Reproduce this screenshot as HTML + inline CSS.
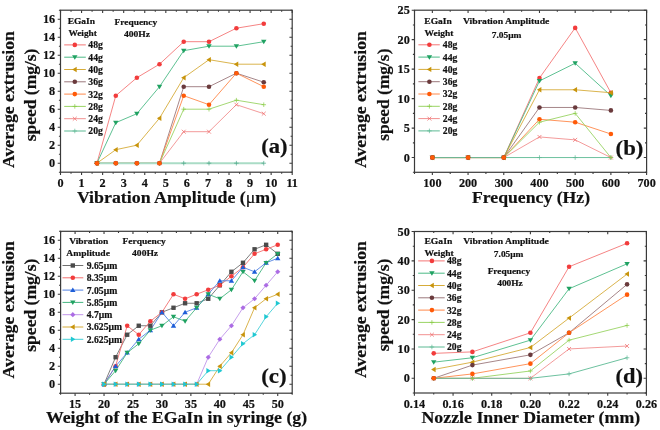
<!DOCTYPE html>
<html><head><meta charset="utf-8"><title>Extrusion speed charts</title>
<style>
html,body{margin:0;padding:0;background:#fff;}
body{width:660px;height:430px;overflow:hidden;}
svg{display:block;filter:blur(0.3px);}
text{font-family:"Liberation Serif", serif;font-weight:bold;fill:#111;stroke:#111;stroke-width:0.2px;}
</style></head>
<body>
<svg width="660" height="430" viewBox="0 0 660 430">
<rect width="660" height="430" fill="#fff"/>
<rect x="60.50" y="10.20" width="231.70" height="162.00" fill="none" stroke="#3a3a3a" stroke-width="1.2"/>
<path d="M60.50,172.20v2.8M60.50,10.20v2.8M81.56,172.20v2.8M81.56,10.20v2.8M102.63,172.20v2.8M102.63,10.20v2.8M123.69,172.20v2.8M123.69,10.20v2.8M144.75,172.20v2.8M144.75,10.20v2.8M165.82,172.20v2.8M165.82,10.20v2.8M186.88,172.20v2.8M186.88,10.20v2.8M207.95,172.20v2.8M207.95,10.20v2.8M229.01,172.20v2.8M229.01,10.20v2.8M250.07,172.20v2.8M250.07,10.20v2.8M271.14,172.20v2.8M271.14,10.20v2.8M292.20,172.20v2.8M292.20,10.20v2.8M71.03,172.20v1.6M71.03,10.20v1.6M92.10,172.20v1.6M92.10,10.20v1.6M113.16,172.20v1.6M113.16,10.20v1.6M134.22,172.20v1.6M134.22,10.20v1.6M155.29,172.20v1.6M155.29,10.20v1.6M176.35,172.20v1.6M176.35,10.20v1.6M197.41,172.20v1.6M197.41,10.20v1.6M218.48,172.20v1.6M218.48,10.20v1.6M239.54,172.20v1.6M239.54,10.20v1.6M260.60,172.20v1.6M260.60,10.20v1.6M281.67,172.20v1.6M281.67,10.20v1.6M60.50,163.20h-2.8M292.20,163.20h-2.8M60.50,145.20h-2.8M292.20,145.20h-2.8M60.50,127.20h-2.8M292.20,127.20h-2.8M60.50,109.20h-2.8M292.20,109.20h-2.8M60.50,91.20h-2.8M292.20,91.20h-2.8M60.50,73.20h-2.8M292.20,73.20h-2.8M60.50,55.20h-2.8M292.20,55.20h-2.8M60.50,37.20h-2.8M292.20,37.20h-2.8M60.50,19.20h-2.8M292.20,19.20h-2.8M60.50,172.20h-1.6M292.20,172.20h-1.6M60.50,154.20h-1.6M292.20,154.20h-1.6M60.50,136.20h-1.6M292.20,136.20h-1.6M60.50,118.20h-1.6M292.20,118.20h-1.6M60.50,100.20h-1.6M292.20,100.20h-1.6M60.50,82.20h-1.6M292.20,82.20h-1.6M60.50,64.20h-1.6M292.20,64.20h-1.6M60.50,46.20h-1.6M292.20,46.20h-1.6M60.50,28.20h-1.6M292.20,28.20h-1.6M60.50,10.20h-1.6M292.20,10.20h-1.6" stroke="#3a3a3a" stroke-width="1.1" fill="none"/>
<text x="60.50" y="187.30" text-anchor="middle" font-size="12.2">0</text>
<text x="81.56" y="187.30" text-anchor="middle" font-size="12.2">1</text>
<text x="102.63" y="187.30" text-anchor="middle" font-size="12.2">2</text>
<text x="123.69" y="187.30" text-anchor="middle" font-size="12.2">3</text>
<text x="144.75" y="187.30" text-anchor="middle" font-size="12.2">4</text>
<text x="165.82" y="187.30" text-anchor="middle" font-size="12.2">5</text>
<text x="186.88" y="187.30" text-anchor="middle" font-size="12.2">6</text>
<text x="207.95" y="187.30" text-anchor="middle" font-size="12.2">7</text>
<text x="229.01" y="187.30" text-anchor="middle" font-size="12.2">8</text>
<text x="250.07" y="187.30" text-anchor="middle" font-size="12.2">9</text>
<text x="271.14" y="187.30" text-anchor="middle" font-size="12.2">10</text>
<text x="292.20" y="187.30" text-anchor="middle" font-size="12.2">11</text>
<text x="55.20" y="167.20" text-anchor="end" font-size="12.2">0</text>
<text x="55.20" y="149.20" text-anchor="end" font-size="12.2">2</text>
<text x="55.20" y="131.20" text-anchor="end" font-size="12.2">4</text>
<text x="55.20" y="113.20" text-anchor="end" font-size="12.2">6</text>
<text x="55.20" y="95.20" text-anchor="end" font-size="12.2">8</text>
<text x="55.20" y="77.20" text-anchor="end" font-size="12.2">10</text>
<text x="55.20" y="59.20" text-anchor="end" font-size="12.2">12</text>
<text x="55.20" y="41.20" text-anchor="end" font-size="12.2">14</text>
<text x="55.20" y="23.20" text-anchor="end" font-size="12.2">16</text>
<path d="M96.94,163.20 L115.79,95.70 L136.86,77.70 L159.50,64.20 L183.72,41.70 L209.00,41.70 L236.38,28.20 L263.76,23.70" stroke="#f47676" stroke-width="0.9" fill="none"/>
<path d="M96.94,163.20 L115.79,122.70 L136.86,113.70 L159.50,86.70 L183.72,50.70 L209.00,46.20 L236.38,46.20 L263.76,41.70" stroke="#4cba86" stroke-width="0.9" fill="none"/>
<path d="M96.94,163.20 L115.79,149.70 L136.86,145.20 L159.50,118.20 L183.72,77.70 L209.00,59.70 L236.38,64.20 L263.76,64.20" stroke="#d6ac3a" stroke-width="0.9" fill="none"/>
<path d="M96.94,163.20 L115.79,163.20 L136.86,163.20 L159.50,163.20 L183.72,86.70 L209.00,86.70 L236.38,73.20 L263.76,82.20" stroke="#9c787c" stroke-width="0.9" fill="none"/>
<path d="M96.94,163.20 L115.79,163.20 L136.86,163.20 L159.50,163.20 L183.72,95.70 L209.00,104.70 L236.38,73.20 L263.76,86.70" stroke="#ff884a" stroke-width="0.9" fill="none"/>
<path d="M96.94,163.20 L115.79,163.20 L136.86,163.20 L159.50,163.20 L183.72,109.20 L209.00,109.20 L236.38,100.20 L263.76,104.70" stroke="#9ad464" stroke-width="0.9" fill="none"/>
<path d="M96.94,163.20 L115.79,163.20 L136.86,163.20 L159.50,163.20 L183.72,131.70 L209.00,131.70 L236.38,104.70 L263.76,113.70" stroke="#f29090" stroke-width="0.9" fill="none"/>
<path d="M96.94,163.20 L115.79,163.20 L136.86,163.20 L159.50,163.20 L183.72,163.20 L209.00,163.20 L236.38,163.20 L263.76,163.20" stroke="#aadcc6" stroke-width="1.9" fill="none"/>
<path d="M261.46,163.20 H266.06 M263.76,160.90 V165.50" stroke="#4aa888" stroke-width="0.7" fill="none"/>
<path d="M234.08,163.20 H238.68 M236.38,160.90 V165.50" stroke="#4aa888" stroke-width="0.7" fill="none"/>
<path d="M206.70,163.20 H211.30 M209.00,160.90 V165.50" stroke="#4aa888" stroke-width="0.7" fill="none"/>
<path d="M181.42,163.20 H186.02 M183.72,160.90 V165.50" stroke="#4aa888" stroke-width="0.7" fill="none"/>
<path d="M157.20,163.20 H161.80 M159.50,160.90 V165.50" stroke="#4aa888" stroke-width="0.7" fill="none"/>
<path d="M134.56,163.20 H139.16 M136.86,160.90 V165.50" stroke="#4aa888" stroke-width="0.7" fill="none"/>
<path d="M113.49,163.20 H118.09 M115.79,160.90 V165.50" stroke="#4aa888" stroke-width="0.7" fill="none"/>
<path d="M94.64,163.20 H99.24 M96.94,160.90 V165.50" stroke="#4aa888" stroke-width="0.7" fill="none"/>
<path d="M261.81,111.74 L265.72,115.65 M261.81,115.65 L265.72,111.74" stroke="#f07272" stroke-width="0.8" fill="none"/>
<path d="M234.43,102.74 L238.34,106.65 M234.43,106.65 L238.34,102.74" stroke="#f07272" stroke-width="0.8" fill="none"/>
<path d="M207.04,129.74 L210.95,133.66 M207.04,133.66 L210.95,129.74" stroke="#f07272" stroke-width="0.8" fill="none"/>
<path d="M181.77,129.74 L185.68,133.66 M181.77,133.66 L185.68,129.74" stroke="#f07272" stroke-width="0.8" fill="none"/>
<path d="M157.54,161.24 L161.45,165.16 M157.54,165.16 L161.45,161.24" stroke="#f07272" stroke-width="0.8" fill="none"/>
<path d="M134.90,161.24 L138.81,165.16 M134.90,165.16 L138.81,161.24" stroke="#f07272" stroke-width="0.8" fill="none"/>
<path d="M113.84,161.24 L117.75,165.16 M113.84,165.16 L117.75,161.24" stroke="#f07272" stroke-width="0.8" fill="none"/>
<path d="M94.99,161.24 L98.90,165.16 M94.99,165.16 L98.90,161.24" stroke="#f07272" stroke-width="0.8" fill="none"/>
<path d="M261.46,104.70 H266.06 M263.76,102.40 V107.00" stroke="#88cc44" stroke-width="0.7" fill="none"/>
<path d="M234.08,100.20 H238.68 M236.38,97.90 V102.50" stroke="#88cc44" stroke-width="0.7" fill="none"/>
<path d="M206.70,109.20 H211.30 M209.00,106.90 V111.50" stroke="#88cc44" stroke-width="0.7" fill="none"/>
<path d="M181.42,109.20 H186.02 M183.72,106.90 V111.50" stroke="#88cc44" stroke-width="0.7" fill="none"/>
<path d="M157.20,163.20 H161.80 M159.50,160.90 V165.50" stroke="#88cc44" stroke-width="0.7" fill="none"/>
<path d="M134.56,163.20 H139.16 M136.86,160.90 V165.50" stroke="#88cc44" stroke-width="0.7" fill="none"/>
<path d="M113.49,163.20 H118.09 M115.79,160.90 V165.50" stroke="#88cc44" stroke-width="0.7" fill="none"/>
<path d="M94.64,163.20 H99.24 M96.94,160.90 V165.50" stroke="#88cc44" stroke-width="0.7" fill="none"/>
<circle cx="96.94" cy="163.20" r="2.30" fill="#f23c3c"/>
<circle cx="115.79" cy="95.70" r="2.30" fill="#f23c3c"/>
<circle cx="136.86" cy="77.70" r="2.30" fill="#f23c3c"/>
<circle cx="159.50" cy="64.20" r="2.30" fill="#f23c3c"/>
<circle cx="183.72" cy="41.70" r="2.30" fill="#f23c3c"/>
<circle cx="209.00" cy="41.70" r="2.30" fill="#f23c3c"/>
<circle cx="236.38" cy="28.20" r="2.30" fill="#f23c3c"/>
<circle cx="263.76" cy="23.70" r="2.30" fill="#f23c3c"/>
<path d="M94.23,161.30 L99.65,161.30 L96.94,165.78 Z" fill="#20a262"/>
<path d="M113.08,120.80 L118.51,120.80 L115.79,125.28 Z" fill="#20a262"/>
<path d="M134.14,111.80 L139.57,111.80 L136.86,116.28 Z" fill="#20a262"/>
<path d="M156.79,84.80 L162.21,84.80 L159.50,89.28 Z" fill="#20a262"/>
<path d="M181.01,48.80 L186.44,48.80 L183.72,53.28 Z" fill="#20a262"/>
<path d="M206.28,44.30 L211.71,44.30 L209.00,48.78 Z" fill="#20a262"/>
<path d="M233.67,44.30 L239.10,44.30 L236.38,48.78 Z" fill="#20a262"/>
<path d="M261.05,39.80 L266.48,39.80 L263.76,44.28 Z" fill="#20a262"/>
<path d="M98.84,160.49 L98.84,165.91 L94.36,163.20 Z" fill="#c8940c"/>
<path d="M117.69,146.99 L117.69,152.41 L113.21,149.70 Z" fill="#c8940c"/>
<path d="M138.76,142.49 L138.76,147.91 L134.28,145.20 Z" fill="#c8940c"/>
<path d="M161.40,115.49 L161.40,120.91 L156.92,118.20 Z" fill="#c8940c"/>
<path d="M185.62,74.99 L185.62,80.41 L181.14,77.70 Z" fill="#c8940c"/>
<path d="M210.90,56.99 L210.90,62.41 L206.42,59.70 Z" fill="#c8940c"/>
<path d="M238.28,61.49 L238.28,66.91 L233.80,64.20 Z" fill="#c8940c"/>
<path d="M265.66,61.49 L265.66,66.91 L261.19,64.20 Z" fill="#c8940c"/>
<circle cx="96.94" cy="163.20" r="2.30" fill="#6a3a3c"/>
<circle cx="115.79" cy="163.20" r="2.30" fill="#6a3a3c"/>
<circle cx="136.86" cy="163.20" r="2.30" fill="#6a3a3c"/>
<circle cx="159.50" cy="163.20" r="2.30" fill="#6a3a3c"/>
<circle cx="183.72" cy="86.70" r="2.30" fill="#6a3a3c"/>
<circle cx="209.00" cy="86.70" r="2.30" fill="#6a3a3c"/>
<circle cx="236.38" cy="73.20" r="2.30" fill="#6a3a3c"/>
<circle cx="263.76" cy="82.20" r="2.30" fill="#6a3a3c"/>
<circle cx="96.94" cy="163.20" r="2.30" fill="#ff5a08"/>
<circle cx="115.79" cy="163.20" r="2.30" fill="#ff5a08"/>
<circle cx="136.86" cy="163.20" r="2.30" fill="#ff5a08"/>
<circle cx="159.50" cy="163.20" r="2.30" fill="#ff5a08"/>
<circle cx="183.72" cy="95.70" r="2.30" fill="#ff5a08"/>
<circle cx="209.00" cy="104.70" r="2.30" fill="#ff5a08"/>
<circle cx="236.38" cy="73.20" r="2.30" fill="#ff5a08"/>
<circle cx="263.76" cy="86.70" r="2.30" fill="#ff5a08"/>
<path d="M64.20,44.90H85.80" stroke="#f47676" stroke-width="1"/>
<circle cx="74.80" cy="44.90" r="2.30" fill="#f23c3c"/>
<text x="88.30" y="48.30" font-size="9.7">48g</text>
<path d="M64.20,57.20H85.80" stroke="#4cba86" stroke-width="1"/>
<path d="M72.09,55.30 L77.51,55.30 L74.80,59.78 Z" fill="#20a262"/>
<text x="88.30" y="60.60" font-size="9.7">44g</text>
<path d="M64.20,69.50H85.80" stroke="#d6ac3a" stroke-width="1"/>
<path d="M76.70,66.79 L76.70,72.21 L72.22,69.50 Z" fill="#c8940c"/>
<text x="88.30" y="72.90" font-size="9.7">40g</text>
<path d="M64.20,81.80H85.80" stroke="#9c787c" stroke-width="1"/>
<circle cx="74.80" cy="81.80" r="2.30" fill="#6a3a3c"/>
<text x="88.30" y="85.20" font-size="9.7">36g</text>
<path d="M64.20,94.10H85.80" stroke="#ff884a" stroke-width="1"/>
<circle cx="74.80" cy="94.10" r="2.30" fill="#ff5a08"/>
<text x="88.30" y="97.50" font-size="9.7">32g</text>
<path d="M64.20,106.40H85.80" stroke="#9ad464" stroke-width="1"/>
<path d="M72.50,106.40 H77.10 M74.80,104.10 V108.70" stroke="#88cc44" stroke-width="0.7" fill="none"/>
<text x="88.30" y="109.80" font-size="9.7">28g</text>
<path d="M64.20,118.70H85.80" stroke="#f29090" stroke-width="1"/>
<path d="M72.84,116.75 L76.75,120.66 M72.84,120.66 L76.75,116.75" stroke="#f07272" stroke-width="0.8" fill="none"/>
<text x="88.30" y="122.10" font-size="9.7">24g</text>
<path d="M64.20,131.00H85.80" stroke="#5cba94" stroke-width="1"/>
<path d="M72.50,131.00 H77.10 M74.80,128.70 V133.30" stroke="#5cb894" stroke-width="0.7" fill="none"/>
<text x="88.30" y="134.40" font-size="9.7">20g</text>
<text x="67.65" y="23.70" font-size="9.0" textLength="27.44" lengthAdjust="spacingAndGlyphs">EGaIn</text>
<text x="68.40" y="35.50" font-size="9.0" textLength="28.50" lengthAdjust="spacingAndGlyphs">Weight</text>
<text x="114.45" y="24.50" font-size="9.0" textLength="42.85" lengthAdjust="spacingAndGlyphs">Frequency</text>
<text x="123.90" y="36.60" font-size="9.0" textLength="26.11" lengthAdjust="spacingAndGlyphs">400Hz</text>
<text x="261.19" y="153.40" font-size="21.5" textLength="26.32" lengthAdjust="spacingAndGlyphs">(a)</text>
<text transform="translate(14.10,168.00) rotate(-90)" font-size="17.6" textLength="136.86" lengthAdjust="spacingAndGlyphs">Average extrusion</text>
<text transform="translate(36.10,141.27) rotate(-90)" font-size="17.6" textLength="92.70" lengthAdjust="spacingAndGlyphs">speed (mg/s)</text>
<text x="76.90" y="203.20" font-size="17.6" textLength="199.24" lengthAdjust="spacingAndGlyphs">Vibration Amplitude (<tspan font-weight="normal">μ</tspan>m)</text>
<rect x="414.50" y="10.20" width="232.10" height="162.10" fill="none" stroke="#3a3a3a" stroke-width="1.2"/>
<path d="M432.35,172.30v2.8M432.35,10.20v2.8M468.06,172.30v2.8M468.06,10.20v2.8M503.77,172.30v2.8M503.77,10.20v2.8M539.48,172.30v2.8M539.48,10.20v2.8M575.18,172.30v2.8M575.18,10.20v2.8M610.89,172.30v2.8M610.89,10.20v2.8M646.60,172.30v2.8M646.60,10.20v2.8M414.50,172.30v1.6M414.50,10.20v1.6M450.21,172.30v1.6M450.21,10.20v1.6M485.92,172.30v1.6M485.92,10.20v1.6M521.62,172.30v1.6M521.62,10.20v1.6M557.33,172.30v1.6M557.33,10.20v1.6M593.04,172.30v1.6M593.04,10.20v1.6M628.75,172.30v1.6M628.75,10.20v1.6M414.50,157.56h-2.8M646.60,157.56h-2.8M414.50,128.09h-2.8M646.60,128.09h-2.8M414.50,98.62h-2.8M646.60,98.62h-2.8M414.50,69.15h-2.8M646.60,69.15h-2.8M414.50,39.67h-2.8M646.60,39.67h-2.8M414.50,10.20h-2.8M646.60,10.20h-2.8M414.50,172.30h-1.6M646.60,172.30h-1.6M414.50,142.83h-1.6M646.60,142.83h-1.6M414.50,113.35h-1.6M646.60,113.35h-1.6M414.50,83.88h-1.6M646.60,83.88h-1.6M414.50,54.41h-1.6M646.60,54.41h-1.6M414.50,24.94h-1.6M646.60,24.94h-1.6" stroke="#3a3a3a" stroke-width="1.1" fill="none"/>
<text x="432.35" y="186.70" text-anchor="middle" font-size="12.2">100</text>
<text x="468.06" y="186.70" text-anchor="middle" font-size="12.2">200</text>
<text x="503.77" y="186.70" text-anchor="middle" font-size="12.2">300</text>
<text x="539.48" y="186.70" text-anchor="middle" font-size="12.2">400</text>
<text x="575.18" y="186.70" text-anchor="middle" font-size="12.2">500</text>
<text x="610.89" y="186.70" text-anchor="middle" font-size="12.2">600</text>
<text x="646.60" y="186.70" text-anchor="middle" font-size="12.2">700</text>
<text x="409.80" y="161.56" text-anchor="end" font-size="12.2">0</text>
<text x="409.80" y="132.09" text-anchor="end" font-size="12.2">5</text>
<text x="409.80" y="102.62" text-anchor="end" font-size="12.2">10</text>
<text x="409.80" y="73.15" text-anchor="end" font-size="12.2">15</text>
<text x="409.80" y="43.67" text-anchor="end" font-size="12.2">20</text>
<text x="409.80" y="14.20" text-anchor="end" font-size="12.2">25</text>
<path d="M432.35,157.56 L468.06,157.56 L503.77,157.56 L539.48,77.99 L575.18,27.88 L610.89,92.72" stroke="#f47676" stroke-width="0.9" fill="none"/>
<path d="M432.35,157.56 L468.06,157.56 L503.77,157.56 L539.48,80.93 L575.18,63.25 L610.89,95.67" stroke="#4cba86" stroke-width="0.9" fill="none"/>
<path d="M432.35,157.56 L468.06,157.56 L503.77,157.56 L539.48,89.78 L575.18,89.78 L610.89,92.72" stroke="#d6ac3a" stroke-width="0.9" fill="none"/>
<path d="M432.35,157.56 L468.06,157.56 L503.77,157.56 L539.48,107.46 L575.18,107.46 L610.89,110.41" stroke="#9c787c" stroke-width="0.9" fill="none"/>
<path d="M432.35,157.56 L468.06,157.56 L503.77,157.56 L539.48,119.25 L575.18,122.20 L610.89,133.99" stroke="#ff884a" stroke-width="0.9" fill="none"/>
<path d="M432.35,157.56 L468.06,157.56 L503.77,157.56 L539.48,122.20 L575.18,113.35 L610.89,157.56" stroke="#9ad464" stroke-width="0.9" fill="none"/>
<path d="M432.35,157.56 L468.06,157.56 L503.77,157.56 L539.48,136.93 L575.18,139.88 L610.89,157.56" stroke="#f29090" stroke-width="0.9" fill="none"/>
<path d="M432.35,157.56 L468.06,157.56 L503.77,157.56 L539.48,157.56 L575.18,157.56 L610.89,157.56" stroke="#5cba94" stroke-width="0.9" fill="none"/>
<path d="M608.59,157.56 H613.19 M610.89,155.26 V159.86" stroke="#5cb894" stroke-width="0.7" fill="none"/>
<path d="M572.88,157.56 H577.48 M575.18,155.26 V159.86" stroke="#5cb894" stroke-width="0.7" fill="none"/>
<path d="M537.18,157.56 H541.78 M539.48,155.26 V159.86" stroke="#5cb894" stroke-width="0.7" fill="none"/>
<path d="M501.47,157.56 H506.07 M503.77,155.26 V159.86" stroke="#5cb894" stroke-width="0.7" fill="none"/>
<path d="M465.76,157.56 H470.36 M468.06,155.26 V159.86" stroke="#5cb894" stroke-width="0.7" fill="none"/>
<path d="M430.05,157.56 H434.65 M432.35,155.26 V159.86" stroke="#5cb894" stroke-width="0.7" fill="none"/>
<path d="M608.94,155.61 L612.85,159.52 M608.94,159.52 L612.85,155.61" stroke="#f07272" stroke-width="0.8" fill="none"/>
<path d="M573.23,137.92 L577.14,141.84 M573.23,141.84 L577.14,137.92" stroke="#f07272" stroke-width="0.8" fill="none"/>
<path d="M537.52,134.98 L541.43,138.89 M537.52,138.89 L541.43,134.98" stroke="#f07272" stroke-width="0.8" fill="none"/>
<path d="M501.81,155.61 L505.72,159.52 M501.81,159.52 L505.72,155.61" stroke="#f07272" stroke-width="0.8" fill="none"/>
<path d="M466.11,155.61 L470.02,159.52 M466.11,159.52 L470.02,155.61" stroke="#f07272" stroke-width="0.8" fill="none"/>
<path d="M430.40,155.61 L434.31,159.52 M430.40,159.52 L434.31,155.61" stroke="#f07272" stroke-width="0.8" fill="none"/>
<path d="M608.59,157.56 H613.19 M610.89,155.26 V159.86" stroke="#88cc44" stroke-width="0.7" fill="none"/>
<path d="M572.88,113.35 H577.48 M575.18,111.05 V115.65" stroke="#88cc44" stroke-width="0.7" fill="none"/>
<path d="M537.18,122.20 H541.78 M539.48,119.90 V124.50" stroke="#88cc44" stroke-width="0.7" fill="none"/>
<path d="M501.47,157.56 H506.07 M503.77,155.26 V159.86" stroke="#88cc44" stroke-width="0.7" fill="none"/>
<path d="M465.76,157.56 H470.36 M468.06,155.26 V159.86" stroke="#88cc44" stroke-width="0.7" fill="none"/>
<path d="M430.05,157.56 H434.65 M432.35,155.26 V159.86" stroke="#88cc44" stroke-width="0.7" fill="none"/>
<circle cx="432.35" cy="157.56" r="2.30" fill="#f23c3c"/>
<circle cx="468.06" cy="157.56" r="2.30" fill="#f23c3c"/>
<circle cx="503.77" cy="157.56" r="2.30" fill="#f23c3c"/>
<circle cx="539.48" cy="77.99" r="2.30" fill="#f23c3c"/>
<circle cx="575.18" cy="27.88" r="2.30" fill="#f23c3c"/>
<circle cx="610.89" cy="92.72" r="2.30" fill="#f23c3c"/>
<path d="M429.64,155.66 L435.07,155.66 L432.35,160.14 Z" fill="#20a262"/>
<path d="M465.35,155.66 L470.78,155.66 L468.06,160.14 Z" fill="#20a262"/>
<path d="M501.06,155.66 L506.48,155.66 L503.77,160.14 Z" fill="#20a262"/>
<path d="M536.76,79.03 L542.19,79.03 L539.48,83.51 Z" fill="#20a262"/>
<path d="M572.47,61.35 L577.90,61.35 L575.18,65.83 Z" fill="#20a262"/>
<path d="M608.18,93.77 L613.61,93.77 L610.89,98.25 Z" fill="#20a262"/>
<path d="M434.25,154.85 L434.25,160.28 L429.78,157.56 Z" fill="#c8940c"/>
<path d="M469.96,154.85 L469.96,160.28 L465.48,157.56 Z" fill="#c8940c"/>
<path d="M505.67,154.85 L505.67,160.28 L501.19,157.56 Z" fill="#c8940c"/>
<path d="M541.38,87.06 L541.38,92.49 L536.90,89.78 Z" fill="#c8940c"/>
<path d="M577.08,87.06 L577.08,92.49 L572.61,89.78 Z" fill="#c8940c"/>
<path d="M612.79,90.01 L612.79,95.44 L608.31,92.72 Z" fill="#c8940c"/>
<circle cx="432.35" cy="157.56" r="2.30" fill="#6a3a3c"/>
<circle cx="468.06" cy="157.56" r="2.30" fill="#6a3a3c"/>
<circle cx="503.77" cy="157.56" r="2.30" fill="#6a3a3c"/>
<circle cx="539.48" cy="107.46" r="2.30" fill="#6a3a3c"/>
<circle cx="575.18" cy="107.46" r="2.30" fill="#6a3a3c"/>
<circle cx="610.89" cy="110.41" r="2.30" fill="#6a3a3c"/>
<circle cx="432.35" cy="157.56" r="2.30" fill="#ff5a08"/>
<circle cx="468.06" cy="157.56" r="2.30" fill="#ff5a08"/>
<circle cx="503.77" cy="157.56" r="2.30" fill="#ff5a08"/>
<circle cx="539.48" cy="119.25" r="2.30" fill="#ff5a08"/>
<circle cx="575.18" cy="122.20" r="2.30" fill="#ff5a08"/>
<circle cx="610.89" cy="133.99" r="2.30" fill="#ff5a08"/>
<path d="M418.40,44.80H439.80" stroke="#f47676" stroke-width="1"/>
<circle cx="429.40" cy="44.80" r="2.30" fill="#f23c3c"/>
<text x="442.80" y="48.20" font-size="9.7">48g</text>
<path d="M418.40,57.10H439.80" stroke="#4cba86" stroke-width="1"/>
<path d="M426.69,55.20 L432.11,55.20 L429.40,59.68 Z" fill="#20a262"/>
<text x="442.80" y="60.50" font-size="9.7">44g</text>
<path d="M418.40,69.40H439.80" stroke="#d6ac3a" stroke-width="1"/>
<path d="M431.30,66.69 L431.30,72.11 L426.82,69.40 Z" fill="#c8940c"/>
<text x="442.80" y="72.80" font-size="9.7">40g</text>
<path d="M418.40,81.70H439.80" stroke="#9c787c" stroke-width="1"/>
<circle cx="429.40" cy="81.70" r="2.30" fill="#6a3a3c"/>
<text x="442.80" y="85.10" font-size="9.7">36g</text>
<path d="M418.40,94.00H439.80" stroke="#ff884a" stroke-width="1"/>
<circle cx="429.40" cy="94.00" r="2.30" fill="#ff5a08"/>
<text x="442.80" y="97.40" font-size="9.7">32g</text>
<path d="M418.40,106.30H439.80" stroke="#9ad464" stroke-width="1"/>
<path d="M427.10,106.30 H431.70 M429.40,104.00 V108.60" stroke="#88cc44" stroke-width="0.7" fill="none"/>
<text x="442.80" y="109.70" font-size="9.7">28g</text>
<path d="M418.40,118.60H439.80" stroke="#f29090" stroke-width="1"/>
<path d="M427.44,116.65 L431.35,120.56 M427.44,120.56 L431.35,116.65" stroke="#f07272" stroke-width="0.8" fill="none"/>
<text x="442.80" y="122.00" font-size="9.7">24g</text>
<path d="M418.40,130.90H439.80" stroke="#5cba94" stroke-width="1"/>
<path d="M427.10,130.90 H431.70 M429.40,128.60 V133.20" stroke="#5cb894" stroke-width="0.7" fill="none"/>
<text x="442.80" y="134.30" font-size="9.7">20g</text>
<text x="424.35" y="23.60" font-size="9.0" textLength="27.54" lengthAdjust="spacingAndGlyphs">EGaIn</text>
<text x="424.50" y="36.00" font-size="9.0" textLength="29.00" lengthAdjust="spacingAndGlyphs">Weight</text>
<text x="462.90" y="24.10" font-size="9.0" textLength="86.51" lengthAdjust="spacingAndGlyphs">Vibration Amplitude</text>
<text x="491.66" y="37.60" font-size="9.0" textLength="29.79" lengthAdjust="spacingAndGlyphs">7.05μm</text>
<text x="615.59" y="154.60" font-size="21.5" textLength="27.83" lengthAdjust="spacingAndGlyphs">(b)</text>
<text transform="translate(366.10,168.00) rotate(-90)" font-size="17.6" textLength="136.86" lengthAdjust="spacingAndGlyphs">Average extrusion</text>
<text transform="translate(388.50,140.77) rotate(-90)" font-size="17.6" textLength="92.20" lengthAdjust="spacingAndGlyphs">speed (mg/s)</text>
<text x="472.02" y="202.60" font-size="17.6" textLength="118.02" lengthAdjust="spacingAndGlyphs">Frequency (Hz)</text>
<rect x="60.60" y="231.30" width="231.60" height="161.90" fill="none" stroke="#3a3a3a" stroke-width="1.2"/>
<path d="M75.08,393.20v2.8M75.08,231.30v2.8M104.03,393.20v2.8M104.03,231.30v2.8M132.97,393.20v2.8M132.97,231.30v2.8M161.93,393.20v2.8M161.93,231.30v2.8M190.88,393.20v2.8M190.88,231.30v2.8M219.82,393.20v2.8M219.82,231.30v2.8M248.77,393.20v2.8M248.77,231.30v2.8M277.73,393.20v2.8M277.73,231.30v2.8M60.60,393.20v1.6M60.60,231.30v1.6M89.55,393.20v1.6M89.55,231.30v1.6M118.50,393.20v1.6M118.50,231.30v1.6M147.45,393.20v1.6M147.45,231.30v1.6M176.40,393.20v1.6M176.40,231.30v1.6M205.35,393.20v1.6M205.35,231.30v1.6M234.30,393.20v1.6M234.30,231.30v1.6M263.25,393.20v1.6M263.25,231.30v1.6M292.20,393.20v1.6M292.20,231.30v1.6M60.60,384.21h-2.8M292.20,384.21h-2.8M60.60,366.22h-2.8M292.20,366.22h-2.8M60.60,348.23h-2.8M292.20,348.23h-2.8M60.60,330.24h-2.8M292.20,330.24h-2.8M60.60,312.25h-2.8M292.20,312.25h-2.8M60.60,294.26h-2.8M292.20,294.26h-2.8M60.60,276.27h-2.8M292.20,276.27h-2.8M60.60,258.28h-2.8M292.20,258.28h-2.8M60.60,240.29h-2.8M292.20,240.29h-2.8M60.60,393.20h-1.6M292.20,393.20h-1.6M60.60,375.21h-1.6M292.20,375.21h-1.6M60.60,357.22h-1.6M292.20,357.22h-1.6M60.60,339.23h-1.6M292.20,339.23h-1.6M60.60,321.24h-1.6M292.20,321.24h-1.6M60.60,303.26h-1.6M292.20,303.26h-1.6M60.60,285.27h-1.6M292.20,285.27h-1.6M60.60,267.28h-1.6M292.20,267.28h-1.6M60.60,249.29h-1.6M292.20,249.29h-1.6M60.60,231.30h-1.6M292.20,231.30h-1.6" stroke="#3a3a3a" stroke-width="1.1" fill="none"/>
<text x="75.08" y="408.30" text-anchor="middle" font-size="12.2">15</text>
<text x="104.03" y="408.30" text-anchor="middle" font-size="12.2">20</text>
<text x="132.97" y="408.30" text-anchor="middle" font-size="12.2">25</text>
<text x="161.93" y="408.30" text-anchor="middle" font-size="12.2">30</text>
<text x="190.88" y="408.30" text-anchor="middle" font-size="12.2">35</text>
<text x="219.82" y="408.30" text-anchor="middle" font-size="12.2">40</text>
<text x="248.77" y="408.30" text-anchor="middle" font-size="12.2">45</text>
<text x="277.73" y="408.30" text-anchor="middle" font-size="12.2">50</text>
<text x="55.20" y="388.21" text-anchor="end" font-size="12.2">0</text>
<text x="55.20" y="370.22" text-anchor="end" font-size="12.2">2</text>
<text x="55.20" y="352.23" text-anchor="end" font-size="12.2">4</text>
<text x="55.20" y="334.24" text-anchor="end" font-size="12.2">6</text>
<text x="55.20" y="316.25" text-anchor="end" font-size="12.2">8</text>
<text x="55.20" y="298.26" text-anchor="end" font-size="12.2">10</text>
<text x="55.20" y="280.27" text-anchor="end" font-size="12.2">12</text>
<text x="55.20" y="262.28" text-anchor="end" font-size="12.2">14</text>
<text x="55.20" y="244.29" text-anchor="end" font-size="12.2">16</text>
<path d="M104.03,384.21 L115.60,357.22 L127.19,334.74 L138.77,325.74 L150.34,325.74 L161.93,312.25 L173.50,307.75 L185.08,303.26 L196.66,303.26 L208.24,298.76 L219.82,285.27 L231.41,271.77 L242.98,262.78 L254.56,249.29 L266.14,244.79 L277.73,253.79" stroke="#707070" stroke-width="0.9" fill="none"/>
<path d="M104.03,384.21 L115.60,366.22 L127.19,325.74 L138.77,334.74 L150.34,321.24 L161.93,312.25 L173.50,294.26 L185.08,298.76 L196.66,294.26 L208.24,289.76 L219.82,285.27 L231.41,276.27 L242.98,267.28 L254.56,253.79 L266.14,249.29 L277.73,244.79" stroke="#f27070" stroke-width="0.9" fill="none"/>
<path d="M104.03,384.21 L115.60,366.22 L127.19,352.73 L138.77,339.23 L150.34,330.24 L161.93,312.25 L173.50,325.74 L185.08,312.25 L196.66,307.75 L208.24,294.26 L219.82,280.77 L231.41,280.77 L242.98,267.28 L254.56,271.77 L266.14,262.78 L277.73,258.28" stroke="#5282e2" stroke-width="0.9" fill="none"/>
<path d="M104.03,384.21 L115.60,370.71 L127.19,352.73 L138.77,343.73 L150.34,330.24 L161.93,325.74 L173.50,316.75 L185.08,321.24 L196.66,307.75 L208.24,294.26 L219.82,298.76 L231.41,289.76 L242.98,271.77 L254.56,280.77 L266.14,262.78 L277.73,253.79" stroke="#44b680" stroke-width="0.9" fill="none"/>
<path d="M104.03,384.21 L115.60,384.21 L127.19,384.21 L138.77,384.21 L150.34,384.21 L161.93,384.21 L173.50,384.21 L185.08,384.21 L196.66,384.21 L208.24,357.22 L219.82,339.23 L231.41,325.74 L242.98,307.75 L254.56,298.76 L266.14,285.27 L277.73,271.77" stroke="#c094ea" stroke-width="0.9" fill="none"/>
<path d="M104.03,384.21 L115.60,384.21 L127.19,384.21 L138.77,384.21 L150.34,384.21 L161.93,384.21 L173.50,384.21 L185.08,384.21 L196.66,384.21 L208.24,384.21 L219.82,366.22 L231.41,352.73 L242.98,334.74 L254.56,307.75 L266.14,298.76 L277.73,294.26" stroke="#d6ac3a" stroke-width="0.9" fill="none"/>
<path d="M104.03,384.21 L115.60,384.21 L127.19,384.21 L138.77,384.21 L150.34,384.21 L161.93,384.21 L173.50,384.21 L185.08,384.21 L196.66,384.21 L208.24,370.71 L219.82,370.71 L231.41,357.22 L242.98,343.73 L254.56,334.74 L266.14,316.75 L277.73,303.26" stroke="#44d0d8" stroke-width="0.9" fill="none"/>
<rect x="101.84" y="382.02" width="4.37" height="4.37" fill="#4a4a4a"/>
<rect x="113.42" y="355.04" width="4.37" height="4.37" fill="#4a4a4a"/>
<rect x="125.00" y="332.55" width="4.37" height="4.37" fill="#4a4a4a"/>
<rect x="136.58" y="323.56" width="4.37" height="4.37" fill="#4a4a4a"/>
<rect x="148.16" y="323.56" width="4.37" height="4.37" fill="#4a4a4a"/>
<rect x="159.74" y="310.06" width="4.37" height="4.37" fill="#4a4a4a"/>
<rect x="171.32" y="305.57" width="4.37" height="4.37" fill="#4a4a4a"/>
<rect x="182.90" y="301.07" width="4.37" height="4.37" fill="#4a4a4a"/>
<rect x="194.48" y="301.07" width="4.37" height="4.37" fill="#4a4a4a"/>
<rect x="206.06" y="296.57" width="4.37" height="4.37" fill="#4a4a4a"/>
<rect x="217.64" y="283.08" width="4.37" height="4.37" fill="#4a4a4a"/>
<rect x="229.22" y="269.59" width="4.37" height="4.37" fill="#4a4a4a"/>
<rect x="240.80" y="260.60" width="4.37" height="4.37" fill="#4a4a4a"/>
<rect x="252.38" y="247.10" width="4.37" height="4.37" fill="#4a4a4a"/>
<rect x="263.96" y="242.61" width="4.37" height="4.37" fill="#4a4a4a"/>
<rect x="275.54" y="251.60" width="4.37" height="4.37" fill="#4a4a4a"/>
<circle cx="104.03" cy="384.21" r="2.30" fill="#f23c3c"/>
<circle cx="115.60" cy="366.22" r="2.30" fill="#f23c3c"/>
<circle cx="127.19" cy="325.74" r="2.30" fill="#f23c3c"/>
<circle cx="138.77" cy="334.74" r="2.30" fill="#f23c3c"/>
<circle cx="150.34" cy="321.24" r="2.30" fill="#f23c3c"/>
<circle cx="161.93" cy="312.25" r="2.30" fill="#f23c3c"/>
<circle cx="173.50" cy="294.26" r="2.30" fill="#f23c3c"/>
<circle cx="185.08" cy="298.76" r="2.30" fill="#f23c3c"/>
<circle cx="196.66" cy="294.26" r="2.30" fill="#f23c3c"/>
<circle cx="208.24" cy="289.76" r="2.30" fill="#f23c3c"/>
<circle cx="219.82" cy="285.27" r="2.30" fill="#f23c3c"/>
<circle cx="231.41" cy="276.27" r="2.30" fill="#f23c3c"/>
<circle cx="242.98" cy="267.28" r="2.30" fill="#f23c3c"/>
<circle cx="254.56" cy="253.79" r="2.30" fill="#f23c3c"/>
<circle cx="266.14" cy="249.29" r="2.30" fill="#f23c3c"/>
<circle cx="277.73" cy="244.79" r="2.30" fill="#f23c3c"/>
<path d="M101.31,386.11 L106.74,386.11 L104.03,381.63 Z" fill="#1e5ed8"/>
<path d="M112.89,368.12 L118.32,368.12 L115.60,363.64 Z" fill="#1e5ed8"/>
<path d="M124.47,354.62 L129.90,354.62 L127.19,350.15 Z" fill="#1e5ed8"/>
<path d="M136.05,341.13 L141.48,341.13 L138.77,336.66 Z" fill="#1e5ed8"/>
<path d="M147.63,332.14 L153.06,332.14 L150.34,327.66 Z" fill="#1e5ed8"/>
<path d="M159.21,314.15 L164.64,314.15 L161.93,309.67 Z" fill="#1e5ed8"/>
<path d="M170.79,327.64 L176.22,327.64 L173.50,323.16 Z" fill="#1e5ed8"/>
<path d="M182.37,314.15 L187.80,314.15 L185.08,309.67 Z" fill="#1e5ed8"/>
<path d="M193.95,309.65 L199.38,309.65 L196.66,305.17 Z" fill="#1e5ed8"/>
<path d="M205.53,296.16 L210.96,296.16 L208.24,291.68 Z" fill="#1e5ed8"/>
<path d="M217.11,282.67 L222.54,282.67 L219.82,278.19 Z" fill="#1e5ed8"/>
<path d="M228.69,282.67 L234.12,282.67 L231.41,278.19 Z" fill="#1e5ed8"/>
<path d="M240.27,269.18 L245.70,269.18 L242.98,264.70 Z" fill="#1e5ed8"/>
<path d="M251.85,273.67 L257.28,273.67 L254.56,269.20 Z" fill="#1e5ed8"/>
<path d="M263.43,264.68 L268.86,264.68 L266.14,260.20 Z" fill="#1e5ed8"/>
<path d="M275.01,260.18 L280.44,260.18 L277.73,255.71 Z" fill="#1e5ed8"/>
<path d="M101.31,382.31 L106.74,382.31 L104.03,386.78 Z" fill="#20a262"/>
<path d="M112.89,368.81 L118.32,368.81 L115.60,373.29 Z" fill="#20a262"/>
<path d="M124.47,350.83 L129.90,350.83 L127.19,355.30 Z" fill="#20a262"/>
<path d="M136.05,341.83 L141.48,341.83 L138.77,346.31 Z" fill="#20a262"/>
<path d="M147.63,328.34 L153.06,328.34 L150.34,332.82 Z" fill="#20a262"/>
<path d="M159.21,323.84 L164.64,323.84 L161.93,328.32 Z" fill="#20a262"/>
<path d="M170.79,314.85 L176.22,314.85 L173.50,319.33 Z" fill="#20a262"/>
<path d="M182.37,319.34 L187.80,319.34 L185.08,323.82 Z" fill="#20a262"/>
<path d="M193.95,305.85 L199.38,305.85 L196.66,310.33 Z" fill="#20a262"/>
<path d="M205.53,292.36 L210.96,292.36 L208.24,296.84 Z" fill="#20a262"/>
<path d="M217.11,296.86 L222.54,296.86 L219.82,301.34 Z" fill="#20a262"/>
<path d="M228.69,287.86 L234.12,287.86 L231.41,292.34 Z" fill="#20a262"/>
<path d="M240.27,269.88 L245.70,269.88 L242.98,274.35 Z" fill="#20a262"/>
<path d="M251.85,278.87 L257.28,278.87 L254.56,283.35 Z" fill="#20a262"/>
<path d="M263.43,260.88 L268.86,260.88 L266.14,265.36 Z" fill="#20a262"/>
<path d="M275.01,251.89 L280.44,251.89 L277.73,256.36 Z" fill="#20a262"/>
<path d="M104.03,381.63 L106.60,384.21 L104.03,386.78 L101.45,384.21 Z" fill="#ac6ce4"/>
<path d="M115.60,381.63 L118.18,384.21 L115.60,386.78 L113.03,384.21 Z" fill="#ac6ce4"/>
<path d="M127.19,381.63 L129.76,384.21 L127.19,386.78 L124.61,384.21 Z" fill="#ac6ce4"/>
<path d="M138.77,381.63 L141.34,384.21 L138.77,386.78 L136.19,384.21 Z" fill="#ac6ce4"/>
<path d="M150.34,381.63 L152.92,384.21 L150.34,386.78 L147.77,384.21 Z" fill="#ac6ce4"/>
<path d="M161.93,381.63 L164.50,384.21 L161.93,386.78 L159.35,384.21 Z" fill="#ac6ce4"/>
<path d="M173.50,381.63 L176.08,384.21 L173.50,386.78 L170.93,384.21 Z" fill="#ac6ce4"/>
<path d="M185.08,381.63 L187.66,384.21 L185.08,386.78 L182.51,384.21 Z" fill="#ac6ce4"/>
<path d="M196.66,381.63 L199.24,384.21 L196.66,386.78 L194.09,384.21 Z" fill="#ac6ce4"/>
<path d="M208.24,354.65 L210.82,357.22 L208.24,359.80 L205.67,357.22 Z" fill="#ac6ce4"/>
<path d="M219.82,336.66 L222.40,339.23 L219.82,341.81 L217.25,339.23 Z" fill="#ac6ce4"/>
<path d="M231.41,323.17 L233.98,325.74 L231.41,328.32 L228.83,325.74 Z" fill="#ac6ce4"/>
<path d="M242.98,305.18 L245.56,307.75 L242.98,310.33 L240.41,307.75 Z" fill="#ac6ce4"/>
<path d="M254.56,296.18 L257.14,298.76 L254.56,301.33 L251.99,298.76 Z" fill="#ac6ce4"/>
<path d="M266.14,282.69 L268.72,285.27 L266.14,287.84 L263.57,285.27 Z" fill="#ac6ce4"/>
<path d="M277.73,269.20 L280.30,271.77 L277.73,274.35 L275.15,271.77 Z" fill="#ac6ce4"/>
<path d="M105.92,381.49 L105.92,386.92 L101.45,384.21 Z" fill="#c8940c"/>
<path d="M117.50,381.49 L117.50,386.92 L113.03,384.21 Z" fill="#c8940c"/>
<path d="M129.08,381.49 L129.08,386.92 L124.61,384.21 Z" fill="#c8940c"/>
<path d="M140.66,381.49 L140.66,386.92 L136.19,384.21 Z" fill="#c8940c"/>
<path d="M152.24,381.49 L152.24,386.92 L147.77,384.21 Z" fill="#c8940c"/>
<path d="M163.82,381.49 L163.82,386.92 L159.35,384.21 Z" fill="#c8940c"/>
<path d="M175.40,381.49 L175.40,386.92 L170.93,384.21 Z" fill="#c8940c"/>
<path d="M186.98,381.49 L186.98,386.92 L182.51,384.21 Z" fill="#c8940c"/>
<path d="M198.56,381.49 L198.56,386.92 L194.09,384.21 Z" fill="#c8940c"/>
<path d="M210.14,381.49 L210.14,386.92 L205.67,384.21 Z" fill="#c8940c"/>
<path d="M221.72,363.50 L221.72,368.93 L217.25,366.22 Z" fill="#c8940c"/>
<path d="M233.30,350.01 L233.30,355.44 L228.83,352.73 Z" fill="#c8940c"/>
<path d="M244.88,332.02 L244.88,337.45 L240.41,334.74 Z" fill="#c8940c"/>
<path d="M256.46,305.04 L256.46,310.47 L251.99,307.75 Z" fill="#c8940c"/>
<path d="M268.04,296.04 L268.04,301.47 L263.57,298.76 Z" fill="#c8940c"/>
<path d="M279.62,291.55 L279.62,296.98 L275.15,294.26 Z" fill="#c8940c"/>
<path d="M102.13,381.49 L102.13,386.92 L106.60,384.21 Z" fill="#1ec8d2"/>
<path d="M113.71,381.49 L113.71,386.92 L118.18,384.21 Z" fill="#1ec8d2"/>
<path d="M125.29,381.49 L125.29,386.92 L129.76,384.21 Z" fill="#1ec8d2"/>
<path d="M136.87,381.49 L136.87,386.92 L141.34,384.21 Z" fill="#1ec8d2"/>
<path d="M148.45,381.49 L148.45,386.92 L152.92,384.21 Z" fill="#1ec8d2"/>
<path d="M160.03,381.49 L160.03,386.92 L164.50,384.21 Z" fill="#1ec8d2"/>
<path d="M171.61,381.49 L171.61,386.92 L176.08,384.21 Z" fill="#1ec8d2"/>
<path d="M183.19,381.49 L183.19,386.92 L187.66,384.21 Z" fill="#1ec8d2"/>
<path d="M194.77,381.49 L194.77,386.92 L199.24,384.21 Z" fill="#1ec8d2"/>
<path d="M206.35,368.00 L206.35,373.43 L210.82,370.71 Z" fill="#1ec8d2"/>
<path d="M217.93,368.00 L217.93,373.43 L222.40,370.71 Z" fill="#1ec8d2"/>
<path d="M229.51,354.51 L229.51,359.94 L233.98,357.22 Z" fill="#1ec8d2"/>
<path d="M241.09,341.02 L241.09,346.44 L245.56,343.73 Z" fill="#1ec8d2"/>
<path d="M252.67,332.02 L252.67,337.45 L257.14,334.74 Z" fill="#1ec8d2"/>
<path d="M264.25,314.03 L264.25,319.46 L268.72,316.75 Z" fill="#1ec8d2"/>
<path d="M275.83,300.54 L275.83,305.97 L280.30,303.26 Z" fill="#1ec8d2"/>
<path d="M62.50,265.50H83.30" stroke="#707070" stroke-width="1"/>
<rect x="70.61" y="263.31" width="4.37" height="4.37" fill="#4a4a4a"/>
<text x="86.70" y="268.90" font-size="9.7">9.65μm</text>
<path d="M62.50,277.80H83.30" stroke="#f27070" stroke-width="1"/>
<circle cx="72.80" cy="277.80" r="2.30" fill="#f23c3c"/>
<text x="86.70" y="281.20" font-size="9.7">8.35μm</text>
<path d="M62.50,290.10H83.30" stroke="#5282e2" stroke-width="1"/>
<path d="M70.09,292.00 L75.51,292.00 L72.80,287.52 Z" fill="#1e5ed8"/>
<text x="86.70" y="293.50" font-size="9.7">7.05μm</text>
<path d="M62.50,302.40H83.30" stroke="#44b680" stroke-width="1"/>
<path d="M70.09,300.50 L75.51,300.50 L72.80,304.98 Z" fill="#20a262"/>
<text x="86.70" y="305.80" font-size="9.7">5.85μm</text>
<path d="M62.50,314.70H83.30" stroke="#c094ea" stroke-width="1"/>
<path d="M72.80,312.12 L75.38,314.70 L72.80,317.28 L70.22,314.70 Z" fill="#ac6ce4"/>
<text x="86.70" y="318.10" font-size="9.7">4.7μm</text>
<path d="M62.50,327.00H83.30" stroke="#d6ac3a" stroke-width="1"/>
<path d="M74.70,324.29 L74.70,329.71 L70.22,327.00 Z" fill="#c8940c"/>
<text x="86.70" y="330.40" font-size="9.7">3.625μm</text>
<path d="M62.50,339.30H83.30" stroke="#44d0d8" stroke-width="1"/>
<path d="M70.90,336.59 L70.90,342.01 L75.38,339.30 Z" fill="#1ec8d2"/>
<text x="86.70" y="342.70" font-size="9.7">2.625μm</text>
<text x="69.20" y="243.70" font-size="9.0" textLength="39.19" lengthAdjust="spacingAndGlyphs">Vibration</text>
<text x="66.30" y="256.20" font-size="9.0" textLength="43.61" lengthAdjust="spacingAndGlyphs">Amplitude</text>
<text x="122.55" y="243.70" font-size="9.0" textLength="43.25" lengthAdjust="spacingAndGlyphs">Ferquency</text>
<text x="132.10" y="256.20" font-size="9.0" textLength="26.01" lengthAdjust="spacingAndGlyphs">400Hz</text>
<text x="261.18" y="382.90" font-size="21.5" textLength="25.44" lengthAdjust="spacingAndGlyphs">(c)</text>
<text transform="translate(14.10,378.40) rotate(-90)" font-size="17.6" textLength="137.26" lengthAdjust="spacingAndGlyphs">Average extrusion</text>
<text transform="translate(36.10,351.77) rotate(-90)" font-size="17.6" textLength="93.21" lengthAdjust="spacingAndGlyphs">speed (mg/s)</text>
<text x="45.90" y="423.00" font-size="17.6" textLength="261.24" lengthAdjust="spacingAndGlyphs">Weight of the EGaIn in syringe (g)</text>
<rect x="414.40" y="231.50" width="232.00" height="161.50" fill="none" stroke="#3a3a3a" stroke-width="1.2"/>
<path d="M414.40,393.00v2.8M414.40,231.50v2.8M453.07,393.00v2.8M453.07,231.50v2.8M491.73,393.00v2.8M491.73,231.50v2.8M530.40,393.00v2.8M530.40,231.50v2.8M569.07,393.00v2.8M569.07,231.50v2.8M607.73,393.00v2.8M607.73,231.50v2.8M646.40,393.00v2.8M646.40,231.50v2.8M433.73,393.00v1.6M433.73,231.50v1.6M472.40,393.00v1.6M472.40,231.50v1.6M511.07,393.00v1.6M511.07,231.50v1.6M549.73,393.00v1.6M549.73,231.50v1.6M588.40,393.00v1.6M588.40,231.50v1.6M627.07,393.00v1.6M627.07,231.50v1.6M414.40,378.32h-2.8M646.40,378.32h-2.8M414.40,348.95h-2.8M646.40,348.95h-2.8M414.40,319.59h-2.8M646.40,319.59h-2.8M414.40,290.23h-2.8M646.40,290.23h-2.8M414.40,260.86h-2.8M646.40,260.86h-2.8M414.40,231.50h-2.8M646.40,231.50h-2.8M414.40,393.00h-1.6M646.40,393.00h-1.6M414.40,363.64h-1.6M646.40,363.64h-1.6M414.40,334.27h-1.6M646.40,334.27h-1.6M414.40,304.91h-1.6M646.40,304.91h-1.6M414.40,275.55h-1.6M646.40,275.55h-1.6M414.40,246.18h-1.6M646.40,246.18h-1.6" stroke="#3a3a3a" stroke-width="1.1" fill="none"/>
<text x="414.40" y="408.30" text-anchor="middle" font-size="12.2">0.14</text>
<text x="453.07" y="408.30" text-anchor="middle" font-size="12.2">0.16</text>
<text x="491.73" y="408.30" text-anchor="middle" font-size="12.2">0.18</text>
<text x="530.40" y="408.30" text-anchor="middle" font-size="12.2">0.20</text>
<text x="569.07" y="408.30" text-anchor="middle" font-size="12.2">0.22</text>
<text x="607.73" y="408.30" text-anchor="middle" font-size="12.2">0.24</text>
<text x="646.40" y="408.30" text-anchor="middle" font-size="12.2">0.26</text>
<text x="409.80" y="382.32" text-anchor="end" font-size="12.2">0</text>
<text x="409.80" y="352.95" text-anchor="end" font-size="12.2">10</text>
<text x="409.80" y="323.59" text-anchor="end" font-size="12.2">20</text>
<text x="409.80" y="294.23" text-anchor="end" font-size="12.2">30</text>
<text x="409.80" y="264.86" text-anchor="end" font-size="12.2">40</text>
<text x="409.80" y="235.50" text-anchor="end" font-size="12.2">50</text>
<path d="M433.73,353.36 L472.40,351.89 L530.40,332.80 L569.07,266.74 L627.07,243.25" stroke="#f47676" stroke-width="0.9" fill="none"/>
<path d="M433.73,362.17 L472.40,357.76 L530.40,340.15 L569.07,288.76 L627.07,263.80" stroke="#4cba86" stroke-width="0.9" fill="none"/>
<path d="M433.73,369.51 L472.40,362.17 L530.40,347.49 L569.07,318.12 L627.07,274.08" stroke="#d6ac3a" stroke-width="0.9" fill="none"/>
<path d="M433.73,378.32 L472.40,365.10 L530.40,354.83 L569.07,332.80 L627.07,284.35" stroke="#9c787c" stroke-width="0.9" fill="none"/>
<path d="M433.73,378.32 L472.40,373.91 L530.40,363.64 L569.07,332.80 L627.07,294.63" stroke="#ff884a" stroke-width="0.9" fill="none"/>
<path d="M433.73,378.32 L472.40,378.32 L530.40,370.98 L569.07,340.15 L627.07,325.46" stroke="#9ad464" stroke-width="0.9" fill="none"/>
<path d="M433.73,378.32 L472.40,378.32 L530.40,378.32 L569.07,348.95 L627.07,346.02" stroke="#f29090" stroke-width="0.9" fill="none"/>
<path d="M433.73,378.32 L472.40,378.32 L530.40,378.32 L569.07,373.91 L627.07,357.76" stroke="#5cba94" stroke-width="0.9" fill="none"/>
<path d="M624.77,357.76 H629.37 M627.07,355.46 V360.06" stroke="#5cb894" stroke-width="0.7" fill="none"/>
<path d="M566.77,373.91 H571.37 M569.07,371.61 V376.21" stroke="#5cb894" stroke-width="0.7" fill="none"/>
<path d="M528.10,378.32 H532.70 M530.40,376.02 V380.62" stroke="#5cb894" stroke-width="0.7" fill="none"/>
<path d="M470.10,378.32 H474.70 M472.40,376.02 V380.62" stroke="#5cb894" stroke-width="0.7" fill="none"/>
<path d="M431.43,378.32 H436.03 M433.73,376.02 V380.62" stroke="#5cb894" stroke-width="0.7" fill="none"/>
<path d="M625.11,344.06 L629.02,347.97 M625.11,347.97 L629.02,344.06" stroke="#f07272" stroke-width="0.8" fill="none"/>
<path d="M567.11,347.00 L571.02,350.91 M567.11,350.91 L571.02,347.00" stroke="#f07272" stroke-width="0.8" fill="none"/>
<path d="M528.44,376.36 L532.36,380.27 M528.44,380.27 L532.36,376.36" stroke="#f07272" stroke-width="0.8" fill="none"/>
<path d="M470.44,376.36 L474.35,380.27 M470.44,380.27 L474.35,376.36" stroke="#f07272" stroke-width="0.8" fill="none"/>
<path d="M431.78,376.36 L435.69,380.27 M431.78,380.27 L435.69,376.36" stroke="#f07272" stroke-width="0.8" fill="none"/>
<path d="M624.77,325.46 H629.37 M627.07,323.16 V327.76" stroke="#88cc44" stroke-width="0.7" fill="none"/>
<path d="M566.77,340.15 H571.37 M569.07,337.85 V342.45" stroke="#88cc44" stroke-width="0.7" fill="none"/>
<path d="M528.10,370.98 H532.70 M530.40,368.68 V373.28" stroke="#88cc44" stroke-width="0.7" fill="none"/>
<path d="M470.10,378.32 H474.70 M472.40,376.02 V380.62" stroke="#88cc44" stroke-width="0.7" fill="none"/>
<path d="M431.43,378.32 H436.03 M433.73,376.02 V380.62" stroke="#88cc44" stroke-width="0.7" fill="none"/>
<circle cx="433.73" cy="353.36" r="2.30" fill="#f23c3c"/>
<circle cx="472.40" cy="351.89" r="2.30" fill="#f23c3c"/>
<circle cx="530.40" cy="332.80" r="2.30" fill="#f23c3c"/>
<circle cx="569.07" cy="266.74" r="2.30" fill="#f23c3c"/>
<circle cx="627.07" cy="243.25" r="2.30" fill="#f23c3c"/>
<path d="M431.02,360.27 L436.45,360.27 L433.73,364.75 Z" fill="#20a262"/>
<path d="M469.69,355.86 L475.11,355.86 L472.40,360.34 Z" fill="#20a262"/>
<path d="M527.69,338.25 L533.11,338.25 L530.40,342.72 Z" fill="#20a262"/>
<path d="M566.35,286.86 L571.78,286.86 L569.07,291.34 Z" fill="#20a262"/>
<path d="M624.35,261.90 L629.78,261.90 L627.07,266.38 Z" fill="#20a262"/>
<path d="M435.63,366.80 L435.63,372.22 L431.16,369.51 Z" fill="#c8940c"/>
<path d="M474.30,359.45 L474.30,364.88 L469.82,362.17 Z" fill="#c8940c"/>
<path d="M532.30,344.77 L532.30,350.20 L527.82,347.49 Z" fill="#c8940c"/>
<path d="M570.97,315.41 L570.97,320.84 L566.49,318.12 Z" fill="#c8940c"/>
<path d="M628.97,271.36 L628.97,276.79 L624.49,274.08 Z" fill="#c8940c"/>
<circle cx="433.73" cy="378.32" r="2.30" fill="#6a3a3c"/>
<circle cx="472.40" cy="365.10" r="2.30" fill="#6a3a3c"/>
<circle cx="530.40" cy="354.83" r="2.30" fill="#6a3a3c"/>
<circle cx="569.07" cy="332.80" r="2.30" fill="#6a3a3c"/>
<circle cx="627.07" cy="284.35" r="2.30" fill="#6a3a3c"/>
<circle cx="433.73" cy="378.32" r="2.30" fill="#ff5a08"/>
<circle cx="472.40" cy="373.91" r="2.30" fill="#ff5a08"/>
<circle cx="530.40" cy="363.64" r="2.30" fill="#ff5a08"/>
<circle cx="569.07" cy="332.80" r="2.30" fill="#ff5a08"/>
<circle cx="627.07" cy="294.63" r="2.30" fill="#ff5a08"/>
<path d="M418.20,260.90H444.70" stroke="#f47676" stroke-width="1"/>
<circle cx="431.90" cy="260.90" r="2.30" fill="#f23c3c"/>
<text x="447.00" y="264.30" font-size="9.7">48g</text>
<path d="M418.20,273.20H444.70" stroke="#4cba86" stroke-width="1"/>
<path d="M429.19,271.30 L434.61,271.30 L431.90,275.78 Z" fill="#20a262"/>
<text x="447.00" y="276.60" font-size="9.7">44g</text>
<path d="M418.20,285.50H444.70" stroke="#d6ac3a" stroke-width="1"/>
<path d="M433.80,282.79 L433.80,288.21 L429.32,285.50 Z" fill="#c8940c"/>
<text x="447.00" y="288.90" font-size="9.7">40g</text>
<path d="M418.20,297.80H444.70" stroke="#9c787c" stroke-width="1"/>
<circle cx="431.90" cy="297.80" r="2.30" fill="#6a3a3c"/>
<text x="447.00" y="301.20" font-size="9.7">36g</text>
<path d="M418.20,310.10H444.70" stroke="#ff884a" stroke-width="1"/>
<circle cx="431.90" cy="310.10" r="2.30" fill="#ff5a08"/>
<text x="447.00" y="313.50" font-size="9.7">32g</text>
<path d="M418.20,322.40H444.70" stroke="#9ad464" stroke-width="1"/>
<path d="M429.60,322.40 H434.20 M431.90,320.10 V324.70" stroke="#88cc44" stroke-width="0.7" fill="none"/>
<text x="447.00" y="325.80" font-size="9.7">28g</text>
<path d="M418.20,334.70H444.70" stroke="#f29090" stroke-width="1"/>
<path d="M429.94,332.75 L433.85,336.65 M429.94,336.65 L433.85,332.75" stroke="#f07272" stroke-width="0.8" fill="none"/>
<text x="447.00" y="338.10" font-size="9.7">24g</text>
<path d="M418.20,347.00H444.70" stroke="#5cba94" stroke-width="1"/>
<path d="M429.60,347.00 H434.20 M431.90,344.70 V349.30" stroke="#5cb894" stroke-width="0.7" fill="none"/>
<text x="447.00" y="350.40" font-size="9.7">20g</text>
<text x="424.45" y="243.80" font-size="9.0" textLength="27.84" lengthAdjust="spacingAndGlyphs">EGaIn</text>
<text x="424.60" y="255.90" font-size="9.0" textLength="29.20" lengthAdjust="spacingAndGlyphs">Weight</text>
<text x="463.20" y="243.80" font-size="9.0" textLength="85.71" lengthAdjust="spacingAndGlyphs">Vibration Amplitude</text>
<text x="493.86" y="257.00" font-size="9.0" textLength="29.59" lengthAdjust="spacingAndGlyphs">7.05μm</text>
<text x="487.65" y="274.10" font-size="9.0" textLength="42.55" lengthAdjust="spacingAndGlyphs">Frequency</text>
<text x="497.20" y="286.20" font-size="9.0" textLength="25.61" lengthAdjust="spacingAndGlyphs">400Hz</text>
<text x="615.60" y="382.90" font-size="21.5" textLength="27.41" lengthAdjust="spacingAndGlyphs">(d)</text>
<text transform="translate(366.10,378.00) rotate(-90)" font-size="17.6" textLength="136.86" lengthAdjust="spacingAndGlyphs">Average extrusion</text>
<text transform="translate(388.50,351.37) rotate(-90)" font-size="17.6" textLength="92.81" lengthAdjust="spacingAndGlyphs">speed (mg/s)</text>
<text x="421.42" y="423.00" font-size="17.6" textLength="218.82" lengthAdjust="spacingAndGlyphs">Nozzle Inner Diameter (mm)</text>
</svg>
</body></html>
